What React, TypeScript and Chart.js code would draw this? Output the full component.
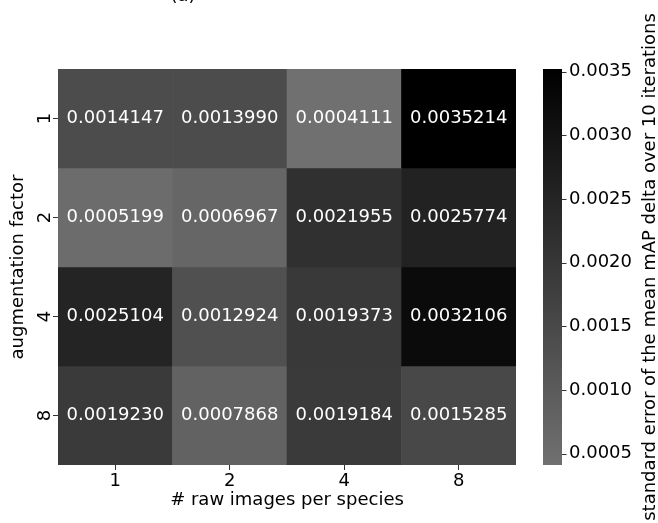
import React, { useEffect, useRef } from "react";
import { Chart, registerables } from "chart.js";

Chart.register(...registerables);

// Heatmap axes
const rawImagesPerSpecies = ["1", "2", "4", "8"];
const augmentationFactors = ["1", "2", "4", "8"];

// Standard error of the mean mAP delta, one array per augmentation factor
const augFactor1 = [0.0014147, 0.001399, 0.0004111, 0.0035214];
const augFactor2 = [0.0005199, 0.0006967, 0.0021955, 0.0025774];
const augFactor4 = [0.0025104, 0.0012924, 0.0019373, 0.0032106];
const augFactor8 = [0.001923, 0.0007868, 0.0019184, 0.0015285];
const gridValues = [augFactor1, augFactor2, augFactor4, augFactor8];

// Colour bar ticks
const colorbarTicks = [0.0005, 0.001, 0.0015, 0.002, 0.0025, 0.003, 0.0035];

const vmin = Math.min(...gridValues.flat());
const vmax = Math.max(...gridValues.flat());

const FONT = "DejaVu Sans";
const LIGHTEST = 112;

function shade(v: number): string {
  const t = (v - vmin) / (vmax - vmin);
  const g = Math.round(LIGHTEST * (1 - t));
  return `rgb(${g},${g},${g})`;
}

const heatmapOverlay = {
  id: "heatmapOverlay",
  beforeDatasetsDraw(chart: any) {
    const { ctx, chartArea } = chart;
    const cb = chart.scales.cb;
    const x0 = chartArea.right + 27;
    const top = cb.getPixelForValue(vmax);
    const bottom = cb.getPixelForValue(vmin);
    const grad = ctx.createLinearGradient(0, bottom, 0, top);
    grad.addColorStop(0, shade(vmin));
    grad.addColorStop(1, shade(vmax));
    ctx.save();
    ctx.fillStyle = grad;
    ctx.fillRect(x0, top, 19, bottom - top);
    ctx.restore();
  },
  afterDatasetsDraw(chart: any) {
    const { ctx } = chart;
    const xs = chart.scales.x;
    const ys = chart.scales.y;
    ctx.save();
    ctx.font = `18px "${FONT}"`;
    ctx.fillStyle = "#ffffff";
    ctx.textAlign = "center";
    ctx.textBaseline = "alphabetic";
    gridValues.forEach((row, r) => {
      row.forEach((v, c) => {
        const cx = xs.getPixelForValue(c);
        const cy = ys.getPixelForValue(r + 0.5);
        ctx.fillText(v.toFixed(7), cx, cy + 4.5);
      });
    });
    ctx.restore();
  },
  afterDraw(chart: any) {
    const { ctx, chartArea } = chart;
    const ys = chart.scales.y;
    const cb = chart.scales.cb;
    ctx.save();
    ctx.font = `18px "${FONT}"`;
    ctx.fillStyle = "#000000";
    // rotated row labels
    augmentationFactors.forEach((lab, r) => {
      const y = ys.getPixelForValue(r + 0.5);
      ctx.save();
      ctx.translate(chartArea.left - 8, y);
      ctx.rotate(-Math.PI / 2);
      ctx.textAlign = "center";
      ctx.textBaseline = "alphabetic";
      ctx.fillText(lab, 0, 0);
      ctx.restore();
    });
    // colour bar tick marks
    ctx.strokeStyle = "#333333";
    ctx.lineWidth = 1;
    const cbRight = chartArea.right + 46;
    colorbarTicks.forEach((v) => {
      const y = Math.round(cb.getPixelForValue(v)) + 0.5;
      ctx.beginPath();
      ctx.moveTo(cbRight, y);
      ctx.lineTo(cbRight + 4.5, y);
      ctx.stroke();
    });
    // colour bar label
    ctx.save();
    ctx.translate(655, (cb.top + cb.bottom) / 2);
    ctx.rotate(-Math.PI / 2);
    ctx.textAlign = "center";
    ctx.textBaseline = "alphabetic";
    ctx.fillText("standard error of the mean mAP delta over 10 iterations", 0, 0);
    ctx.restore();
    // panel tag
    ctx.textAlign = "center";
    ctx.textBaseline = "alphabetic";
    ctx.fillText("(a)", 183, 1);
    ctx.restore();
  },
};

export default function App() {
  const canvasRef = useRef<HTMLCanvasElement | null>(null);

  useEffect(() => {
    const canvas = canvasRef.current;
    if (!canvas) return;
    const tickFont = { family: FONT, size: 18 };

    const datasets = gridValues.map((row, r) => ({
      label: augmentationFactors[r],
      data: row.map(() => [r, r + 1]),
      backgroundColor: row.map(shade),
      borderWidth: 0,
      grouped: false,
      barPercentage: 1,
      categoryPercentage: 1,
      xAxisID: "x",
      yAxisID: "y",
    }));

    const chart = new Chart(canvas, {
      type: "bar",
      data: { labels: rawImagesPerSpecies, datasets: datasets as any },
      plugins: [heatmapOverlay],
      options: {
        responsive: false,
        animation: false,
        events: [],
        layout: { padding: { top: 69, left: 0, right: 0, bottom: 0 } },
        plugins: { legend: { display: false }, tooltip: { enabled: false } },
        scales: {
          x: {
            type: "category",
            offset: true,
            border: { display: false },
            grid: {
              display: true,
              drawOnChartArea: false,
              offset: false,
              tickLength: 5,
              color: "#333333",
            },
            ticks: { font: tickFont, color: "#000000", padding: 1 },
            title: {
              display: true,
              text: "# raw images per species",
              font: tickFont,
              color: "#000000",
              padding: { top: 0, bottom: 11.4 },
            },
            afterFit: (s: any) => {
              s.height = 58;
            },
          },
          y: {
            type: "linear",
            min: 0,
            max: 4,
            reverse: true,
            border: { display: false },
            grid: {
              display: true,
              drawOnChartArea: false,
              tickLength: 5,
              color: "#333333",
            },
            ticks: { display: false },
            afterBuildTicks: (s: any) => {
              s.ticks = augmentationFactors.map((_, i) => ({ value: i + 0.5 }));
            },
            title: {
              display: true,
              text: "augmentation factor",
              font: tickFont,
              color: "#000000",
              padding: { top: 8, bottom: 0 },
            },
            afterFit: (s: any) => {
              s.width = 58;
            },
          },
          cb: {
            type: "linear",
            position: "right",
            min: vmin,
            max: vmax,
            border: { display: false },
            // tick length only offsets the labels past the colour bar
            grid: { display: false, drawTicks: true, tickLength: 53 },
            afterBuildTicks: (s: any) => {
              s.ticks = colorbarTicks.map((v) => ({ value: v }));
            },
            ticks: {
              font: tickFont,
              color: "#000000",
              padding: 0,
              callback: (v: any) => Number(v).toFixed(4),
            },
            afterFit: (s: any) => {
              s.width = 142;
            },
          },
        },
      } as any,
    });

    return () => chart.destroy();
  }, []);

  return (
    <div style={{ position: "fixed", left: 0, top: 0, width: 658, height: 523, background: "#ffffff" }}>
      <canvas ref={canvasRef} width={658} height={523} />
    </div>
  );
}
